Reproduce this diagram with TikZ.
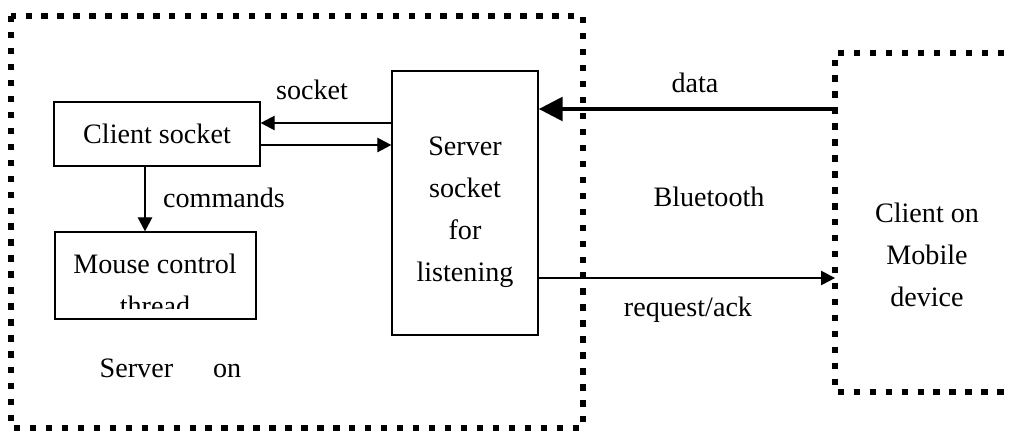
\documentclass[tikz,border=0pt]{standalone}
\usepackage{fontspec}
\setmainfont{Liberation Serif}
\usetikzlibrary{arrows.meta, positioning, calc}

\begin{document}
\begin{tikzpicture}[x=0.025cm, y=-0.025cm,
  font=\fontsize{20}{30}\selectfont,
  s/.style={draw, line width=0.9pt, align=center, inner sep=0pt},
  dots/.style={line width=4pt, dash pattern=on 4.5pt off 6.85pt},
  a/.style={-{Triangle[length=3.5mm, width=3.6mm]}, line width=0.9pt},
  fat/.style={-{Triangle[length=6mm, width=5.8mm]}, line width=3.5pt},
  lb/.style={inner sep=1pt}]
  \useasboundingbox (0,0) rectangle (1012,430);
  \draw[dots] (11,16) rectangle (583,428);
  \draw[dots] (1020,53) -- (835,53) -- (835,392) -- (1020,392);
  \node[s, minimum width=5.15cm, minimum height=1.6cm] (cli) at (157,134) {Client socket};
  \node[s, minimum width=5.025cm, minimum height=2.175cm] (mouse) at (155.5,275.5) {};
  \begin{scope}
    \clip ([yshift=2.75mm]mouse.south west) rectangle (mouse.north east);
    \node[align=center] (mousetxt) at (155,285) {Mouse control\\thread};
  \end{scope}
  \node[s, minimum width=3.65cm, minimum height=6.6cm] (srv) at (465,203) {};
  \node[align=center] (srvtxt) at (465,212) {Server\\socket\\for\\listening};
  \node[align=center] (client) at (927,255) {Client on\\Mobile\\device};
  \coordinate (cdata) at (835,109);
  \coordinate (creq) at (835,278);
  \coordinate (cmd) at ($(cli.south)+(-12,0)$);
  \draw[fat] (cdata) -- (cdata -| srv.east);
  \draw[a] (creq -| srv.east) -- (creq);
  \draw[a] ($(srv.west |- cli.east)+(0,-11)$) -- ($(cli.east)+(0,-11)$);
  \draw[a] ($(cli.east)+(0,11)$) -- ($(srv.west |- cli.east)+(0,11)$);
  \draw[a] (cmd) -- (cmd |- mouse.north);
  \node[lb] (sockl) at (312,90) {socket};
  \node[lb] (cmdl) at (224,198) {commands};
  \node[lb] (datal) at (695,83) {data};
  \node[lb] (btl) at (709,197) {Bluetooth};
  \node[lb] (reql) at (688,310) {request/ack};
  \node[lb] (serverl) at (170.5,368) {Server\hspace{1cm}on};
\end{tikzpicture}
\end{document}
